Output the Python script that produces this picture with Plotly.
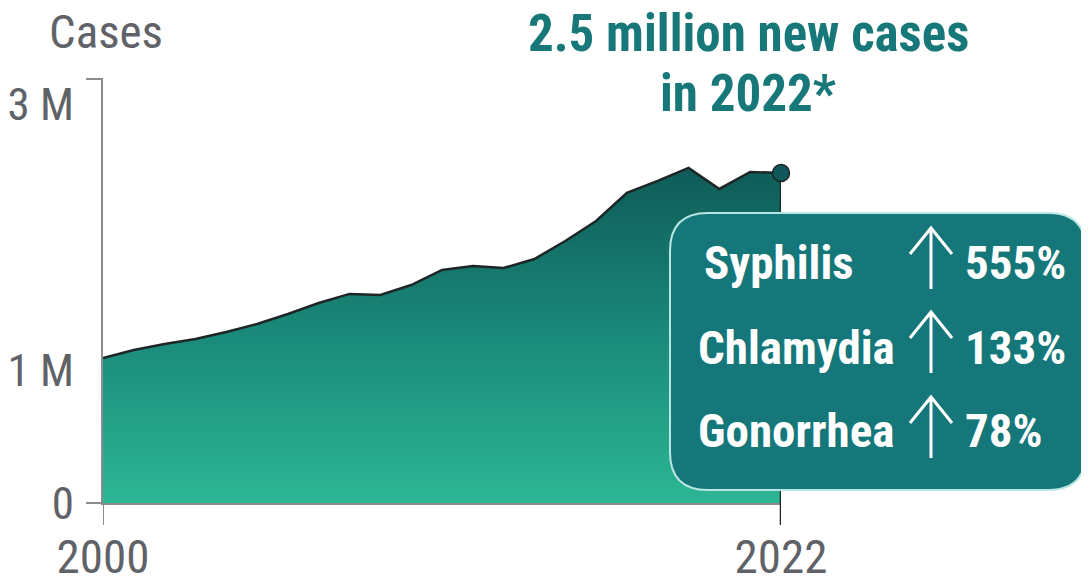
import plotly.graph_objects as go

# ---- data ----
years = list(range(2000, 2023))
cases_m = [1.091, 1.151, 1.196, 1.234, 1.287, 1.347, 1.422, 1.505, 1.573, 1.565,
           1.640, 1.753, 1.783, 1.768, 1.836, 1.971, 2.122, 2.333, 2.423, 2.521,
           2.363, 2.491, 2.483]
cases = [v * 1e6 for v in cases_m]
y_tickvals = [0, 1e6, 3e6]
y_ticktext = ["0", "1 M", "3 M"]
x_tickvals = [2000, 2022]
x_ticktext = ["2000", "2022"]
diseases = ["Syphilis", "Chlamydia", "Gonorrhea"]
increases = ["555%", "133%", "78%"]
title_lines = ["2.5 million new cases", "in 2022*"]

# ---- layout geometry (page has an 8px body margin) ----
OFF = 8
W, H = 1089 - OFF, 584 - OFF
PL, PR, PT, PB = 103, 781, 79, 503          # plot area in page pixels
L, R, T, B = PL - OFF, (1089 - PR), PT - OFF, (584 - PB)
PW, PH = PR - PL, PB - PT
YMAX = 3.19e6

def px(x):
    return (x - PL) / PW

def py(y):
    return (PB - y) / PH

FONT = "Roboto Condensed, Liberation Sans Narrow, Arial Narrow, Roboto, sans-serif"
GREY = "#5f6368"
AXIS = "#8c8c8c"
DARK = "#1c2626"
TEAL = "#15777a"

fig = go.Figure()

fig.add_trace(go.Scatter(
    x=years, y=cases, mode="lines", fill="tozeroy",
    line=dict(color=DARK, width=2.5),
    fillgradient=dict(type="vertical", start=0, stop=max(cases),
                      colorscale=[[0, "#2cb694"], [0.5, "#1a8a7a"], [1, "#0f5b58"]]),
    cliponaxis=False, hoverinfo="skip", showlegend=False,
))
# right edge
fig.add_trace(go.Scatter(
    x=[years[-1], years[-1]], y=[cases[-1], 0], mode="lines",
    line=dict(color=DARK, width=2.5), cliponaxis=False,
    hoverinfo="skip", showlegend=False,
))
# end dot
fig.add_trace(go.Scatter(
    x=[years[-1]], y=[cases[-1]], mode="markers",
    marker=dict(size=17, color="#10585a", line=dict(color=DARK, width=1.5)),
    cliponaxis=False, hoverinfo="skip", showlegend=False,
))

def rounded(x0, y0, x1, y1, r):
    pts = [
        ("M", [(x0 + r, y0)]), ("L", [(x1 - r, y0)]), ("Q", [(x1, y0), (x1, y0 + r)]),
        ("L", [(x1, y1 - r)]), ("Q", [(x1, y1), (x1 - r, y1)]),
        ("L", [(x0 + r, y1)]), ("Q", [(x0, y1), (x0, y1 - r)]),
        ("L", [(x0, y0 + r)]), ("Q", [(x0, y0), (x0 + r, y0)]),
    ]
    s = ""
    for cmd, ps in pts:
        s += cmd + " " + " ".join(f"{px(a):.5f},{py(b):.5f}" for a, b in ps) + " "
    return s + "Z"

def arrow_path(cx, top, bottom, hw, hh):
    return (f"M {px(cx):.5f},{py(bottom):.5f} L {px(cx):.5f},{py(top):.5f} "
            f"M {px(cx - hw):.5f},{py(top + hh):.5f} L {px(cx):.5f},{py(top):.5f} "
            f"L {px(cx + hw):.5f},{py(top + hh):.5f}")

shapes = [
    # 0 tick on y axis
    dict(type="line", xref="paper", yref="paper", x0=px(86), x1=px(103), y0=0, y1=0,
         line=dict(color=AXIS, width=2)),
    # top hook on y axis
    dict(type="line", xref="paper", yref="paper", x0=px(86), x1=px(103), y0=1, y1=1,
         line=dict(color=AXIS, width=2)),
    # 2000 tick
    dict(type="line", xref="x", yref="paper", x0=x_tickvals[0], x1=x_tickvals[0],
         y0=py(525), y1=0, line=dict(color=AXIS, width=2)),
    # dark 2022 tick
    dict(type="line", xref="x", yref="paper", x0=x_tickvals[1], x1=x_tickvals[1],
         y0=py(525), y1=0, line=dict(color=DARK, width=2.5)),
    # callout box
    dict(type="path", xref="paper", yref="paper", path=rounded(670, 213, 1086, 490, 38),
         fillcolor=TEAL, line=dict(color="#b8e6e2", width=2), layer="above"),
]

annotations = [
    dict(text="Cases", xref="paper", yref="paper", x=px(47), y=py(31),
         xanchor="left", yanchor="middle", showarrow=False,
         font=dict(family=FONT, size=47, color=GREY)),
]
for line, ly in zip(title_lines, [33, 93]):
    annotations.append(dict(text=line, xref="paper", yref="paper", x=px(748), y=py(ly),
                            xanchor="center", yanchor="middle", showarrow=False,
                            font=dict(family=FONT, size=51, color="#177779", weight="bold")))
row_y = [262, 347, 430]
row_x = [702, 696, 696]
arrow_tops = [228, 312, 397]
for name, inc, ry, rx, at in zip(diseases, increases, row_y, row_x, arrow_tops):
    annotations.append(dict(text=name, xref="paper", yref="paper", x=px(rx), y=py(ry),
                            xanchor="left", yanchor="middle", showarrow=False,
                            font=dict(family=FONT, size=47, color="white", weight="bold")))
    annotations.append(dict(text=inc, xref="paper", yref="paper", x=px(963), y=py(ry),
                            xanchor="left", yanchor="middle", showarrow=False,
                            font=dict(family=FONT, size=47, color="white", weight="bold")))
    shapes.append(dict(type="path", xref="paper", yref="paper",
                       path=arrow_path(931, at, at + 61, 21, 26),
                       line=dict(color="white", width=3), layer="above"))

fig.update_layout(
    width=W, height=H,
    margin=dict(l=L, r=R, t=T, b=B, pad=0, autoexpand=False),
    paper_bgcolor="white", plot_bgcolor="white",
    shapes=shapes, annotations=annotations,
    xaxis=dict(range=[2000, 2022], tickvals=x_tickvals, ticktext=x_ticktext,
               automargin=False,
               showgrid=False, zeroline=False, showline=True, linecolor=AXIS, linewidth=2,
               ticks="", ticklabelstandoff=12,
               tickfont=dict(family=FONT, size=47, color=GREY)),
    yaxis=dict(range=[0, YMAX], tickvals=y_tickvals, ticktext=y_ticktext,
               automargin=False,
               showgrid=False, zeroline=False, showline=True, linecolor=AXIS, linewidth=2,
               ticks="", ticklabelstandoff=18,
               tickfont=dict(family=FONT, size=45, color=GREY)),
)

fig.write_html("out.html")
